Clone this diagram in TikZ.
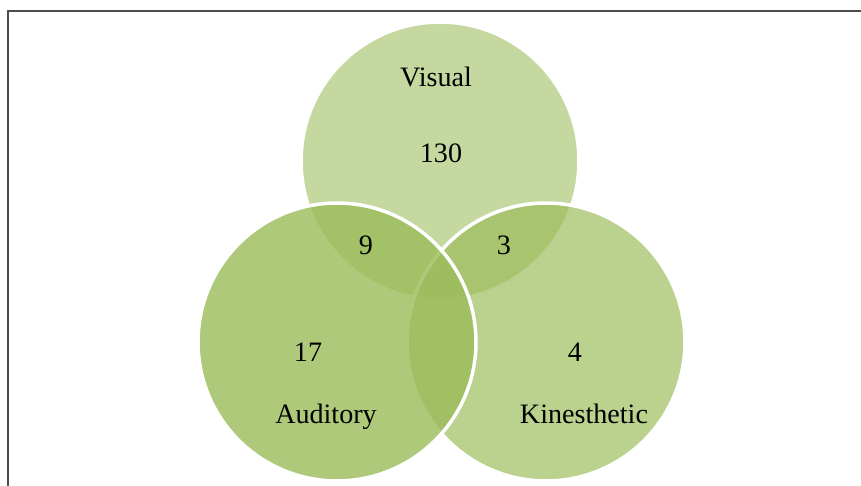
\documentclass[tikz,border=0pt]{standalone}
\usepackage{fontspec}
\setmainfont{Liberation Serif}
\definecolor{venngreen}{HTML}{9BBB59}
\definecolor{framegray}{rgb}{0.3,0.3,0.3}

\begin{document}
\begin{tikzpicture}[x=0.02cm,y=-0.02cm,
  set/.style={fill=venngreen, draw=white, line width=2pt},
  lbl/.style={anchor=base, font=\fontsize{16}{19}\selectfont, text=black}]

\useasboundingbox (0,0) rectangle (861,486);
\clip (0,0) rectangle (861,486);
\draw[framegray, line width=1.1pt] (8,11) rectangle (880,500);

\draw[set, fill opacity=0.58] (440,161) circle (2.78cm);
\draw[set, fill opacity=0.68] (546,342) circle (2.78cm);
\draw[set, fill opacity=0.8] (337,342) circle (2.78cm);

\node[lbl] (visual) at (436,87) {Visual};
\node[lbl] (nv) at (441,163) {130};
\node[lbl] (nva) at (366,254) {9};
\node[lbl] (nvk) at (504,254) {3};
\node[lbl] (na) at (308,361) {17};
\node[lbl] (nk) at (575,361) {4};
\node[lbl] (auditory) at (326,423) {Auditory};
\node[lbl] (kinesthetic) at (584,423) {Kinesthetic};
\end{tikzpicture}
\end{document}
